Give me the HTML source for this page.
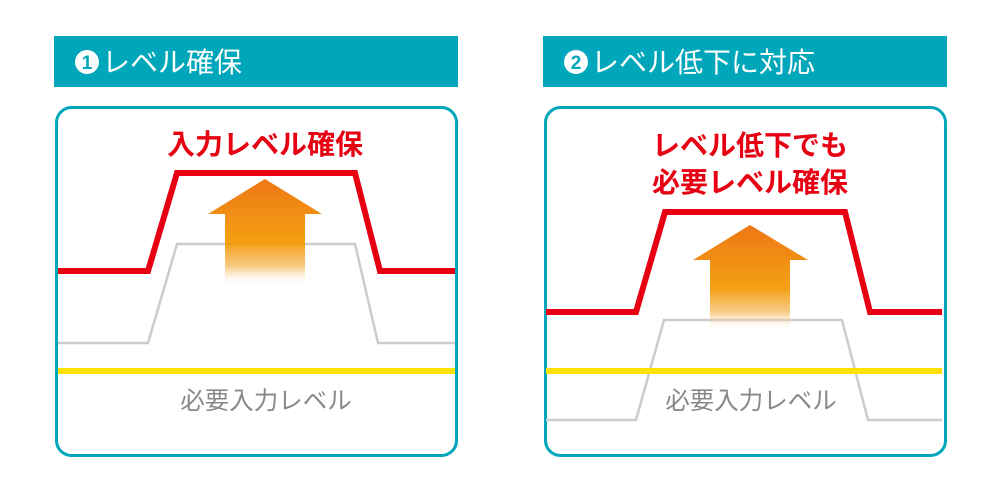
<!DOCTYPE html>
<html><head><meta charset="utf-8"><style>
html,body{margin:0;padding:0;background:#fff;width:1000px;height:500px;overflow:hidden}
svg text{font-family:"Liberation Sans","Noto Sans CJK JP",sans-serif}
</style></head><body>
<svg width="1000" height="500" viewBox="0 0 1000 500" xmlns="http://www.w3.org/2000/svg">
<defs>
<linearGradient id="ag" x1="0" y1="0" x2="0" y2="1" gradientUnits="objectBoundingBox">
<stop offset="0" stop-color="#ec6c00"/>
<stop offset="0.6" stop-color="#f39800"/>
<stop offset="0.82" stop-color="#f6b350" stop-opacity="0.75"/>
<stop offset="1" stop-color="#fff" stop-opacity="0"/>
</linearGradient>
</defs>
<!-- Left panel -->
<rect x="54" y="36" width="404" height="51" fill="#00a6b9"/>
<circle cx="87" cy="62" r="12" fill="#fff"/>
<text x="87" y="69" font-size="19" font-weight="bold" fill="#00a6b9" text-anchor="middle">1</text>
<text x="102" y="72" font-size="28" fill="#fff">レベル確保</text>
<rect x="56.5" y="107.5" width="400" height="348" rx="15" fill="#fff" stroke="#00a6b9" stroke-width="3"/>
<text x="265" y="154" font-size="28" font-weight="bold" fill="#e60012" text-anchor="middle">入力レベル確保</text>
<polyline points="58,343 148,343 177,244 355,244 378,343 455,343" fill="none" stroke="#cccccc" stroke-width="2.5"/>
<line x1="58" y1="371" x2="455" y2="371" stroke="#ffe100" stroke-width="6"/>
<polyline points="58,271 148,271 177,173 355,173 380,271 455,271" fill="none" stroke="#e60012" stroke-width="6"/>
<path d="M265,179 L322,214 L305,214 L305,286 L225,286 L225,214 L208,214 Z" fill="url(#ag)" opacity="0.92"/>
<text x="266" y="409" font-size="24.5" fill="#888" text-anchor="middle">必要入力レベル</text>
<!-- Right panel -->
<rect x="543" y="36" width="404" height="51" fill="#00a6b9"/>
<circle cx="576" cy="62" r="12" fill="#fff"/>
<text x="576" y="69" font-size="19" font-weight="bold" fill="#00a6b9" text-anchor="middle">2</text>
<text x="591" y="72" font-size="28" fill="#fff">レベル低下に対応</text>
<rect x="545.5" y="107.5" width="400" height="348" rx="15" fill="#fff" stroke="#00a6b9" stroke-width="3"/>
<text x="750" y="155" font-size="28" font-weight="bold" fill="#e60012" text-anchor="middle">レベル低下でも</text>
<text x="750" y="192" font-size="28" font-weight="bold" fill="#e60012" text-anchor="middle">必要レベル確保</text>
<polyline points="546,420 636,420 664,320 842,320 868,420 942,420" fill="none" stroke="#cccccc" stroke-width="2.5"/>
<line x1="546" y1="371" x2="942" y2="371" stroke="#ffe100" stroke-width="6"/>
<polyline points="546,312 636,312 665,212 845,212 870,312 942,312" fill="none" stroke="#e60012" stroke-width="6"/>
<path d="M750,225 L808,260 L790,260 L790,331 L710,331 L710,260 L693,260 Z" fill="url(#ag)" opacity="0.92"/>
<text x="751" y="409" font-size="24.5" fill="#888" text-anchor="middle">必要入力レベル</text>
</svg>
</body></html>
